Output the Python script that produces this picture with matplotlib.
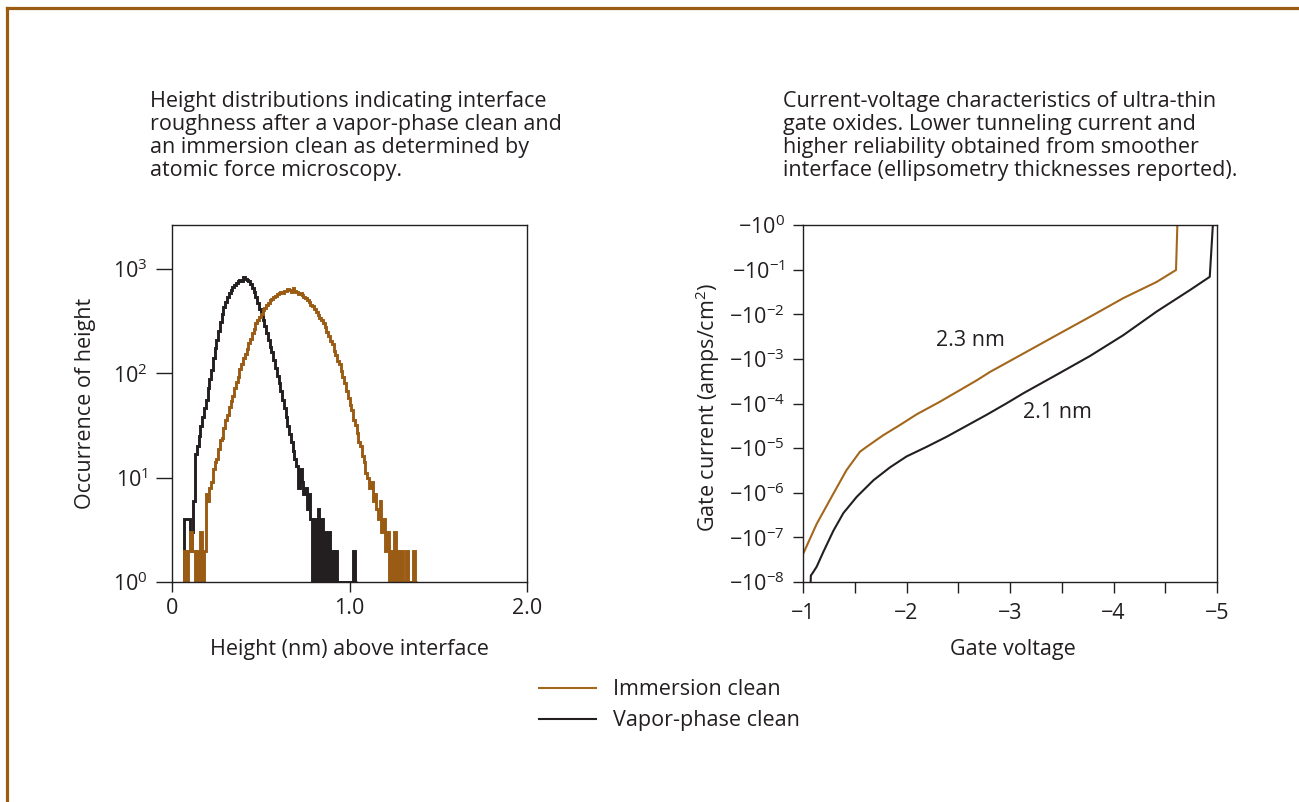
import numpy as np
import matplotlib
matplotlib.use("Agg")
import matplotlib.pyplot as plt
from matplotlib.lines import Line2D
from matplotlib.ticker import FixedLocator, FuncFormatter, NullFormatter

plt.rcParams['font.family'] = ['Open Sans', 'DejaVu Sans']
plt.rcParams['mathtext.fontset'] = 'custom'
plt.rcParams['mathtext.rm'] = 'Open Sans'
plt.rcParams['mathtext.it'] = 'Open Sans'
plt.rcParams['mathtext.bf'] = 'Open Sans'

TEXT = '#231f20'
BROWN = '#9a5c14'
BROWN_LINE = '#a3671c'
BLACK = '#231f20'
FS = 15.5

# ---------------- data: height histograms (bin width 0.01 nm) ----------------
bin_width = 0.01
vapor_start = 0.07
vapor_counts = [4, 4, 4, 2, 3, 6, 17, 20, 25, 31, 38, 46, 56, 72, 88, 108, 140, 175,
                210, 255, 310, 370, 430, 480, 540, 590, 630, 670, 700, 730, 760, 790,
                770, 840, 800, 790, 760, 720, 650, 600, 540, 470, 410, 360, 320, 285,
                245, 210, 180, 160, 135, 112, 95, 80, 68, 56, 46, 38, 31, 26, 22, 18,
                15, 13, 8, 12, 9, 7, 8, 5, 7, 4, 1, 4, 1, 5, 1, 4, 1, 3, 1, 3, 1, 2,
                1, 2, 1, 1, 1, 1, 1, 1, 1, 1, 1, 2, 1]
immersion_start = 0.07
immersion_counts = [2, 1, 2, 3, 2, 2, 1, 2, 1, 3, 1, 2, 7, 6, 8, 9, 12, 14, 15, 19, 23,
                    24, 30, 36, 40, 47, 54, 60, 72, 83, 92, 110, 122, 140, 152, 172,
                    195, 215, 245, 265, 300, 320, 345, 370, 400, 420, 455, 470, 500,
                    515, 540, 555, 575, 590, 600, 585, 620, 610, 640, 625, 600, 655,
                    610, 600, 580, 590, 560, 540, 520, 505, 480, 455, 440, 410, 385,
                    360, 340, 320, 300, 275, 250, 225, 205, 190, 165, 150, 130, 122,
                    105, 92, 80, 68, 58, 50, 44, 36, 32, 27, 22, 20, 16, 14, 11, 10,
                    8, 9, 6, 7, 5, 4, 6, 3, 4, 2, 3, 1, 2, 1, 3, 1, 2, 1, 2, 1, 1, 2,
                    1, 1, 1, 2, 1]

# ---------------- data: gate I-V curves (current magnitude, A/cm^2) ----------------
imm_voltage = [-1.0, -1.132, -1.293, -1.42, -1.55, -1.615, -1.776, -1.937, -2.10,
               -2.324, -2.517, -2.678, -2.807, -3.13, -3.45, -3.77, -4.095, -4.417,
               -4.604, -4.617]
imm_current = [4.2e-8, 2.0e-7, 9.5e-7, 3.2e-6, 8.3e-6, 1.07e-5, 1.95e-5, 3.3e-5,
               5.75e-5, 1.1e-4, 2.0e-4, 3.3e-4, 5.1e-4, 1.32e-3, 3.4e-3, 8.7e-3,
               2.3e-2, 5.3e-2, 9.8e-2, 1.0]
vap_voltage = [-1.074, -1.076, -1.094, -1.132, -1.196, -1.293, -1.39, -1.519, -1.68,
               -1.84, -2.0, -2.195, -2.388, -2.58, -2.775, -2.97, -3.13, -3.45, -3.77,
               -4.095, -4.417, -4.74, -4.93, -4.96]
vap_current = [1.0e-8, 1.4e-8, 1.6e-8, 2.2e-8, 4.7e-8, 1.4e-7, 3.5e-7, 8.1e-7, 1.9e-6,
               3.7e-6, 6.5e-6, 1.07e-5, 1.8e-5, 3.16e-5, 5.6e-5, 1.02e-4, 1.7e-4, 4.4e-4,
               1.15e-3, 3.4e-3, 1.15e-2, 3.5e-2, 6.9e-2, 1.0]

series_labels = ['Immersion clean', 'Vapor-phase clean']
thickness_labels = ['2.3 nm', '2.1 nm']

# ---------------- figure ----------------
W, H = 1299, 802
fig = plt.figure(figsize=(W / 100, H / 100), dpi=100, facecolor='white')

def fx(px):
    return px / W

def fy(py):
    return 1 - py / H

# border (top and left rules)
fig.add_artist(Line2D([fx(7), 1.0], [fy(8), fy(8)], color=BROWN, lw=2.3))
fig.add_artist(Line2D([fx(7), fx(7)], [fy(8), 0.0], color=BROWN, lw=2.3))

# ---------------- left axes ----------------
axL = fig.add_axes([fx(172), fy(582), (527 - 172) / W, (582 - 225) / H])
v_edges = vapor_start + bin_width * np.arange(len(vapor_counts) + 1)
i_edges = immersion_start + bin_width * np.arange(len(immersion_counts) + 1)
axL.stairs(vapor_counts, v_edges, baseline=1, color=BLACK, lw=2.1)
axL.stairs(immersion_counts, i_edges, baseline=1, color=BROWN, lw=2.1)
axL.set_yscale('log')
axL.set_ylim(1, 10 ** 3.42)
axL.set_xlim(0, 2.0)
axL.yaxis.set_major_locator(FixedLocator([1, 10, 100, 1000]))
axL.yaxis.set_minor_formatter(NullFormatter())
axL.yaxis.set_minor_locator(FixedLocator([]))
axL.yaxis.set_major_formatter(FuncFormatter(lambda v, p: r'$10^{%d}$' % round(np.log10(v))))
axL.set_xticks([0, 1.0, 2.0])
axL.set_xticklabels(['0', '1.0', '2.0'])
axL.tick_params(axis='y', direction='out', length=11.5, width=1.0, color=TEXT,
                labelsize=FS, labelcolor=TEXT, pad=6)
axL.tick_params(axis='x', direction='out', length=7.5, width=1.0, color=TEXT,
                labelsize=FS, labelcolor=TEXT, pad=4)
for s in axL.spines.values():
    s.set_color(TEXT)
    s.set_linewidth(1.0)
axL.set_ylabel('Occurrence of height', fontsize=FS, color=TEXT)
axL.yaxis.set_label_coords(-0.215, 0.5)
axL.set_xlabel('Height (nm) above interface', fontsize=FS, color=TEXT)
axL.xaxis.set_label_coords(0.5, -0.16)

# ---------------- right axes ----------------
axR = fig.add_axes([fx(803), fy(582), (1217 - 803) / W, (582 - 225) / H])
axR.plot(imm_voltage, imm_current, color=BROWN_LINE, lw=1.5)
axR.plot(vap_voltage, vap_current, color=BLACK, lw=1.5)
axR.set_yscale('log')
axR.set_ylim(1e-8, 1.0)
axR.set_xlim(-1, -5)
axR.yaxis.set_major_locator(FixedLocator([10.0 ** k for k in range(-8, 1)]))
axR.yaxis.set_minor_locator(FixedLocator([]))

def neg_pow(v, p):
    k = int(round(np.log10(v)))
    exp = '0' if k == 0 else '\u2212%d' % (-k)
    return '\u2212' + r'10$^{%s}$' % exp

axR.yaxis.set_major_formatter(FuncFormatter(neg_pow))
axR.set_xticks([-1, -2, -3, -4, -5])
axR.set_xticklabels(['\u22121', '\u22122', '\u22123', '\u22124', '\u22125'])
axR.set_xticks([-1.5, -2.5, -3.5, -4.5], minor=True)
axR.tick_params(axis='y', direction='out', length=7, width=1.0, color=TEXT,
                labelsize=FS, labelcolor=TEXT, pad=6)
axR.tick_params(axis='x', which='both', direction='out', length=8, width=1.0, color=TEXT,
                labelsize=FS, labelcolor=TEXT, pad=7)
for s in axR.spines.values():
    s.set_color(TEXT)
    s.set_linewidth(1.0)
axR.set_ylabel('Gate current (amps/cm$^{2}$)', fontsize=FS, color=TEXT)
axR.yaxis.set_label_coords(-0.196, 0.49)
axR.set_xlabel('Gate voltage', fontsize=FS, color=TEXT)
axR.xaxis.set_label_coords(0.507, -0.16)
axR.text(-2.614, 2.6e-3, thickness_labels[0], fontsize=FS, color=TEXT, ha='center', va='center')
axR.text(-3.46, 6.4e-5, thickness_labels[1], fontsize=FS, color=TEXT, ha='center', va='center')

# ---------------- titles ----------------
fig.text(fx(150), fy(91), 'Height distributions indicating interface\n'
         'roughness after a vapor-phase clean and\n'
         'an immersion clean as determined by\n'
         'atomic force microscopy.', fontsize=FS, color=TEXT, ha='left', va='top',
         linespacing=1.13)
fig.text(fx(783), fy(91), 'Current-voltage characteristics of ultra-thin\n'
         'gate oxides. Lower tunneling current and\n'
         'higher reliability obtained from smoother\n'
         'interface (ellipsometry thicknesses reported).', fontsize=FS, color=TEXT,
         ha='left', va='top', linespacing=1.13)

# ---------------- legend ----------------
handles = [Line2D([], [], color=BROWN_LINE, lw=1.5), Line2D([], [], color=BLACK, lw=1.5)]
fig.legend(handles, series_labels, loc='upper left', bbox_to_anchor=(fx(520), fy(660)),
           frameon=False, fontsize=FS, handlelength=2.65, handletextpad=0.75,
           labelspacing=0.45, labelcolor=TEXT)

fig.savefig('out.png', dpi=100, facecolor='white')
